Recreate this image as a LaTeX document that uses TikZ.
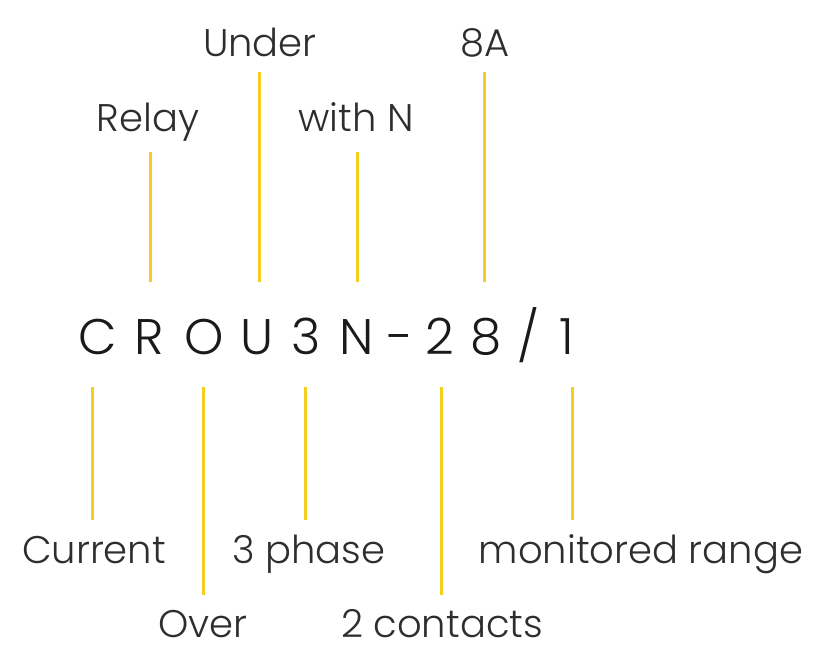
\documentclass[tikz,border=0pt]{standalone}
\usepackage{fontspec}
\setmainfont{Poppins}[UprightFont={* Light}]
\definecolor{lineyellow}{HTML}{F5CE1F}
\definecolor{labelgray}{HTML}{2E2E2E}
\definecolor{codeblack}{HTML}{1A1A1A}
\begin{document}
\begin{tikzpicture}[x=1pt,y=-1pt,
  lbl/.style={anchor=base,inner sep=0pt,text=labelgray,font=\fontsize{38.5}{42}\selectfont},
  chr/.style={anchor=base,inner sep=0pt,text=codeblack,font=\fontsize{50}{54}\selectfont},
  tick/.style={draw=lineyellow,line width=3pt}]
\useasboundingbox (0,0) rectangle (827,652);
% code characters
\node[chr] (cC) at (98,354) {C};
\node[chr] (cR) at (149,354) {R};
\node[chr] (cO) at (204,354) {O};
\node[chr] (cU) at (257,354) {U};
\node[chr] (c3) at (306,354) {3};
\node[chr] (cN) at (357,354) {N};
\node[chr] (cD) at (400,354) {-};
\node[chr] (c2) at (440,354) {2};
\node[chr] (c8) at (486,354) {8};
\node[chr] (cS) at (529,354) {/};
\node[chr] (c1) at (567,354) {1};
% top labels
\node[lbl] (under) at (260,57) {Under};
\node[lbl] (eightA) at (485,57) {8A};
\node[lbl] (relay) at (148,132) {Relay};
\node[lbl] (withN) at (356,132) {with N};
% bottom labels
\node[lbl] (current) at (94,563) {Current};
\node[lbl] (phase) at (309,563) {3 phase};
\node[lbl] (range) at (641,563) {monitored range};
\node[lbl] (over) at (203,637) {Over};
\node[lbl] (contacts) at (442,637) {2 contacts};
% line end points
\coordinate (tRa) at (150,152); \coordinate (tRb) at (150,282);
\coordinate (tUa) at (259,72);  \coordinate (tUb) at (259,282);
\coordinate (tNa) at (357,152); \coordinate (tNb) at (357,282);
\coordinate (t8a) at (484,72);  \coordinate (t8b) at (484,282);
\coordinate (bCa) at (92,387);  \coordinate (bCb) at (92,520);
\coordinate (bOa) at (203,387); \coordinate (bOb) at (203,595);
\coordinate (b3a) at (305,387); \coordinate (b3b) at (305,520);
\coordinate (b2a) at (441,387); \coordinate (b2b) at (441,595);
\coordinate (b1a) at (572,387); \coordinate (b1b) at (572,520);
\draw[tick] (tRa) -- (tRb);
\draw[tick] (tUa) -- (tUb);
\draw[tick] (tNa) -- (tNb);
\draw[tick] (t8a) -- (t8b);
\draw[tick] (bCa) -- (bCb);
\draw[tick] (bOa) -- (bOb);
\draw[tick] (b3a) -- (b3b);
\draw[tick] (b2a) -- (b2b);
\draw[tick] (b1a) -- (b1b);
\end{tikzpicture}
\end{document}
